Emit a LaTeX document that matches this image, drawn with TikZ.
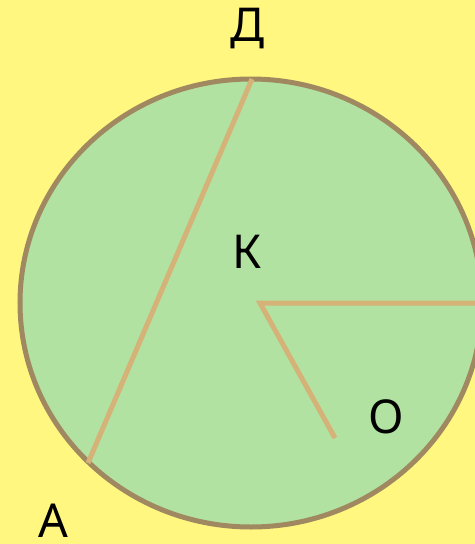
\documentclass[tikz,border=0pt]{standalone}
\usepackage{fontspec}
\setmainfont{Noto Sans}
\definecolor{bgyellow}{RGB}{255,247,128}
\definecolor{discgreen}{RGB}{178,226,162}
\definecolor{rimbrown}{RGB}{160,136,96}
\definecolor{segtan}{RGB}{212,178,120}
\begin{document}
\begin{tikzpicture}[x=0.75pt,y=-0.75pt,
  lbl/.style={font=\fontsize{35}{40}\selectfont,text=black,anchor=base,inner sep=0pt},
  seg/.style={draw=segtan,line width=3.75pt}]
\useasboundingbox (0,0) rectangle (475,544);
\clip (0,0) rectangle (475,544);
\fill[bgyellow] (0,0) rectangle (475,544);
\draw[fill=discgreen,draw=rimbrown,line width=3.75pt] (251,303) ellipse [x radius=231, y radius=224];
\coordinate (D) at (252,79);
\coordinate (A) at (88,463);
\coordinate (K) at (260,303);
\coordinate (E) at (480,303);
\coordinate (O) at (335,438);
\draw[seg] (D) -- (A);
\draw[seg,line join=miter] (E) -- (K) -- (O);
\node[lbl] (ld) at (248,41) {Д};
\node[lbl] (lk) at (247,268) {К};
\node[lbl] (lo) at (386,433) {О};
\node[lbl] (la) at (53,537) {А};
\end{tikzpicture}
\end{document}
